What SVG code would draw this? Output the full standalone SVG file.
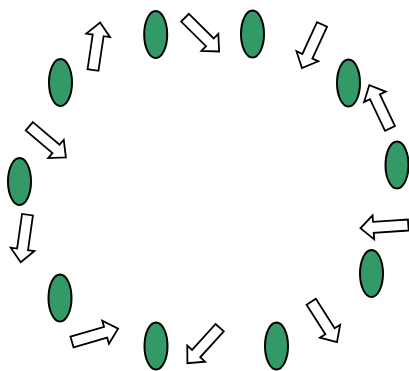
<svg xmlns="http://www.w3.org/2000/svg" width="409" height="371" viewBox="0 0 409 371">
<style>
.n{fill:#339966;stroke:#000;stroke-width:2}
.a{fill:#fff;stroke:#000;stroke-width:1.8;stroke-linejoin:miter}
</style>
<defs>
<path id="arr" d="M0,-5.5 L35,-5.5 L35,-12 L48,0 L35,12 L35,5.5 L0,5.5 Z"/>
</defs>
<rect width="409" height="371" fill="#fff"/>
<g id="connectors">
<use href="#arr" class="a" transform="translate(93,70) rotate(-81.5)"/>
<use href="#arr" class="a" transform="translate(185,17.7) rotate(44.7)"/>
<use href="#arr" class="a" transform="translate(322,24.5) rotate(114.7)"/>
<use href="#arr" class="a" transform="translate(390,128.4) rotate(-115.5)"/>
<use href="#arr" class="a" transform="translate(408.3,225) rotate(176.1)"/>
<use href="#arr" class="a" transform="translate(311.2,301.7) rotate(57.5)"/>
<use href="#arr" class="a" transform="translate(219.7,327.7) rotate(132.3)"/>
<use href="#arr" class="a" transform="translate(72,342) rotate(-16.2)"/>
<use href="#arr" class="a" transform="translate(27.5,214.7) rotate(98.1)"/>
<use href="#arr" class="a" transform="translate(29.3,126.3) rotate(40.3)"/>
</g>
<g id="n1"><ellipse class="n" cx="155.7" cy="34.5" rx="11.5" ry="23.5"/></g>
<g id="n2"><ellipse class="n" cx="252.5" cy="34" rx="11.5" ry="23.5"/></g>
<g id="n3"><ellipse class="n" cx="348.5" cy="83" rx="11.5" ry="23.5"/></g>
<g id="n4"><ellipse class="n" cx="397" cy="165" rx="11.5" ry="23.5"/></g>
<g id="n5"><ellipse class="n" cx="371.5" cy="273.5" rx="11.5" ry="23.5"/></g>
<g id="n6"><ellipse class="n" cx="276.5" cy="346" rx="11.5" ry="23.5"/></g>
<g id="n7"><ellipse class="n" cx="156" cy="346" rx="11.5" ry="23.5"/></g>
<g id="n8"><ellipse class="n" cx="60" cy="298" rx="11.5" ry="23.5"/></g>
<g id="n9"><ellipse class="n" cx="19.5" cy="181.5" rx="11.5" ry="23.5"/></g>
<g id="n10"><ellipse class="n" cx="60.5" cy="82.5" rx="11.5" ry="23.5"/></g>
</svg>
